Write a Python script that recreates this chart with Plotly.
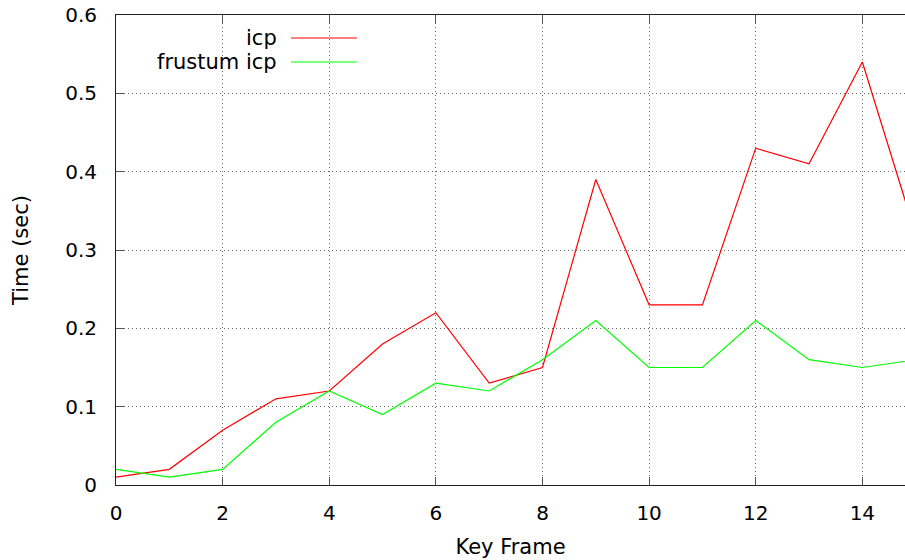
import plotly.graph_objects as go

# Per-keyframe timing for the two registration methods
key_frames = list(range(16))
icp_time = [0.01, 0.02, 0.07, 0.11, 0.12, 0.18, 0.22, 0.13, 0.15, 0.39,
            0.23, 0.23, 0.43, 0.41, 0.54, 0.32]
frustum_icp_time = [0.02, 0.01, 0.02, 0.08, 0.12, 0.09, 0.13, 0.12, 0.16, 0.21,
                    0.15, 0.15, 0.21, 0.16, 0.15, 0.16]
series_names = ["icp", "frustum icp"]
series_colors = ["#ff0000", "#00ff00"]
x_ticks = [0, 2, 4, 6, 8, 10, 12, 14]
y_ticks = [0, 0.1, 0.2, 0.3, 0.4, 0.5, 0.6]
y_tick_text = ["0", "0.1", "0.2", "0.3", "0.4", "0.5", "0.6"]

FONT = "DejaVu Sans"
FS = 20
FS_TEXT = 21

fig = go.Figure()
for name, ys, col in zip(series_names, [icp_time, frustum_icp_time], series_colors):
    fig.add_trace(go.Scatter(x=key_frames, y=ys, mode="lines", name=name,
                             line=dict(color=col, width=1.2), showlegend=False))

# Top mirror axis for gnuplot-style border ticks
fig.add_trace(go.Scatter(x=[None], y=[None], xaxis="x2", showlegend=False))

x_range = [0, 14.8]
grid = dict(showgrid=True, gridcolor="#666666", griddash="1px,3px", gridwidth=1)

fig.update_layout(
    width=905, height=560,
    margin=dict(l=116, r=0, t=15, b=75),
    paper_bgcolor="white", plot_bgcolor="white",
    font=dict(family=FONT, size=FS, color="black"),
    xaxis=dict(range=x_range, tickvals=x_ticks, ticks="inside", ticklen=8,
               tickcolor="#555555", showline=True, linecolor="#222222",
               linewidth=1, zeroline=False, ticklabelstandoff=10,
               tickfont=dict(size=FS, family=FONT),
               title=dict(text="Key Frame", standoff=15,
                          font=dict(size=FS_TEXT, family=FONT)),
               **grid),
    xaxis2=dict(range=x_range, overlaying="x", side="top", tickvals=x_ticks,
                ticks="inside", ticklen=8, tickcolor="#555555",
                showticklabels=False, showline=True, linecolor="#222222",
                linewidth=1, showgrid=False, zeroline=False),
    yaxis=dict(range=[0, 0.6], tickvals=y_ticks, ticktext=y_tick_text,
               ticks="inside", ticklen=8, tickcolor="#555555",
               showline=True, linecolor="#222222", linewidth=1,
               zeroline=False, ticklabelstandoff=14,
               tickfont=dict(size=FS, family=FONT),
               title=dict(text="Time (sec)", standoff=30,
                          font=dict(size=FS_TEXT, family=FONT)),
               **grid),
)

# Key: right-aligned labels with sample lines to their right
legend_rows = [38, 62]
for name, col, py in zip(series_names, series_colors, legend_rows):
    yp = 1 - (py - 15) / 470
    fig.add_annotation(x=(279 - 116) / 789, y=yp, xref="paper", yref="paper",
                       text=name, showarrow=False, xanchor="right",
                       yanchor="middle", font=dict(size=FS_TEXT, family=FONT))
    fig.add_shape(type="line", xref="paper", yref="paper",
                  x0=(291 - 116) / 789, x1=(357 - 116) / 789, y0=yp, y1=yp,
                  line=dict(color=col, width=1.2))

fig.write_html("out.html")
